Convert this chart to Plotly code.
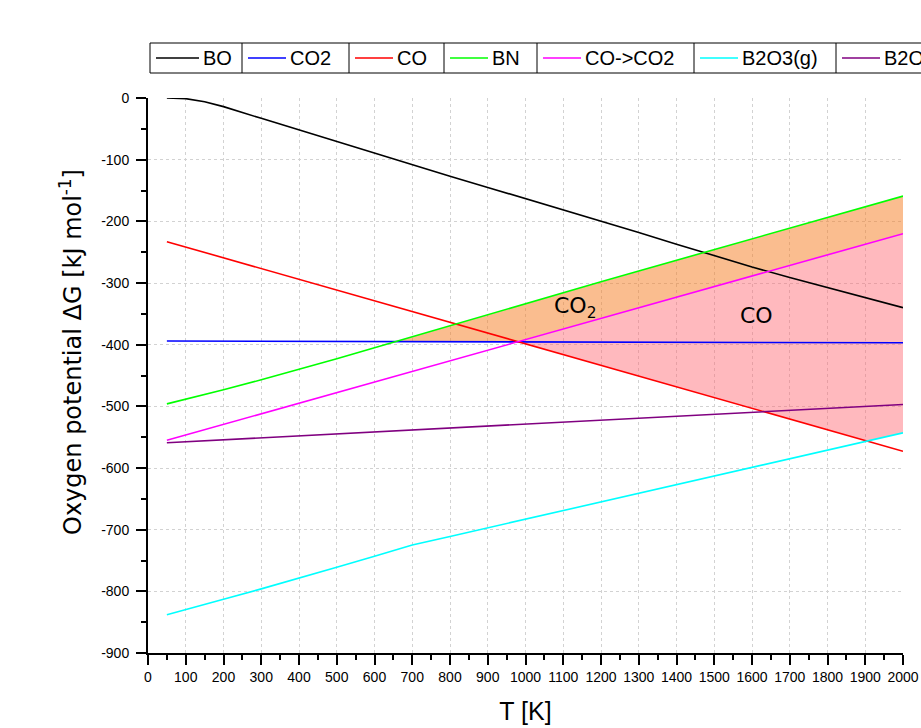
import numpy as np
import plotly.graph_objects as go

# ---------------- data ----------------
T = [50, 100, 150, 200, 300, 400, 500, 600, 700, 800, 900, 1000,
     1100, 1200, 1300, 1400, 1500, 1600, 1700, 1800, 1900, 2000]

BO = [0, -1, -6, -14, -33, -52, -71, -90, -108, -127, -145, -163,
      -181, -200, -218, -237, -256, -274, -291, -307, -323, -340]
CO2 = [-394, -394.1, -394.2, -394.3, -394.5, -394.6, -394.8, -394.9, -395.1, -395.2, -395.4, -395.5,
       -395.7, -395.8, -396.0, -396.1, -396.3, -396.4, -396.6, -396.7, -396.9, -397]
CO = [-233, -241.7, -250.5, -259.2, -276.6, -294.1, -311.5, -329.0, -346.4, -363.8, -381.3, -398.7,
      -416.2, -433.6, -451.1, -468.5, -486.0, -503.4, -520.8, -538.3, -555.7, -573]
BN = [-496, -488.5, -481, -473, -457, -440.5, -423, -405, -387, -369, -351, -333,
      -315.5, -298, -280.5, -263, -246, -228.5, -211, -194, -176.5, -159]
CO_CO2 = [-555, -546.4, -537.8, -529.2, -512.1, -494.9, -477.7, -460.5, -443.3, -426.2, -409.0, -391.8,
          -374.6, -357.4, -340.3, -323.1, -305.9, -288.7, -271.5, -254.4, -237.2, -220]
B2O3_g = [-838, -830, -821.5, -813, -796, -779, -761, -743, -725, -711, -697, -683,
          -669, -655, -641, -627, -613, -599, -585, -571, -557, -543]
B2O3_l = [-559, -557.4, -555.8, -554.2, -551.0, -547.9, -544.7, -541.5, -538.3, -535.1, -531.9, -528.7,
          -525.5, -522.3, -519.1, -515.9, -512.8, -509.6, -506.4, -503.2, -500.0, -497]

series_names = ["BO", "CO2", "CO", "BN", "CO->CO2", "B2O3(g)", "B2O3(l)"]
series_values = [BO, CO2, CO, BN, CO_CO2, B2O3_g, B2O3_l]
series_colors = ["#000000", "#0000FF", "#FF0000", "#00FF00", "#FF00FF", "#00FFFF", "#800080"]

x_ticks = list(range(0, 2001, 100))
y_ticks = list(range(-900, 1, 100))

region_labels = ["CO<sub>2</sub>", "CO"]

# ---------------- figure ----------------
W, H = 921, 728
ML, MT = 148, 98
MR = W - 903
MB = H - 653
PW, PH = W - ML - MR, H - MT - MB


def px2paper_x(px):
    return (px - ML) / PW


def px2paper_y(py):
    return (H - MB - py) / PH


fig = go.Figure()

# shaded regions, derived from the series by interpolation
Tg = np.arange(50, 2000.5, 1.0)
g_bn = np.interp(Tg, T, BN)
g_co2 = np.interp(Tg, T, CO2)
g_co = np.interp(Tg, T, CO)
g_m = np.interp(Tg, T, CO_CO2)
g_cy = np.interp(Tg, T, B2O3_g)

low_o = np.maximum(g_co2, g_m)
mo = g_bn >= low_o
fig.add_trace(go.Scatter(x=Tg[mo], y=low_o[mo], mode="lines", line=dict(width=0),
                         hoverinfo="skip", showlegend=False))
fig.add_trace(go.Scatter(x=Tg[mo], y=g_bn[mo], mode="lines", line=dict(width=0),
                         fill="tonexty", fillcolor="rgba(246,128,40,0.52)",
                         hoverinfo="skip", showlegend=False))

low_p = np.maximum(g_co, g_cy)
mp = g_m >= low_p
fig.add_trace(go.Scatter(x=Tg[mp], y=low_p[mp], mode="lines", line=dict(width=0),
                         hoverinfo="skip", showlegend=False))
fig.add_trace(go.Scatter(x=Tg[mp], y=g_m[mp], mode="lines", line=dict(width=0),
                         fill="tonexty", fillcolor="rgba(255,100,110,0.45)",
                         hoverinfo="skip", showlegend=False))

# curves
for name, vals, col in zip(series_names, series_values, series_colors):
    fig.add_trace(go.Scatter(x=T, y=vals, mode="lines", name=name,
                             line=dict(color=col, width=1.6), showlegend=False))

# region labels
fig.add_annotation(x=1131, y=-339, text=region_labels[0], showarrow=False,
                   font=dict(family="DejaVu Sans", size=22, color="black"))
fig.add_annotation(x=1613, y=-352, text=region_labels[1], showarrow=False,
                   font=dict(family="DejaVu Sans", size=22, color="black"))

# y-axis title
fig.add_annotation(xref="paper", yref="paper", x=px2paper_x(71), y=px2paper_y(352),
                   text="Oxygen potential ΔG [kJ mol<sup>-1</sup>]", textangle=-90,
                   showarrow=False, xanchor="center", yanchor="middle",
                   font=dict(family="DejaVu Sans", size=24, color="black"))

# custom boxed legend (cells across the top)
cell_edges = [150, 242, 349, 444, 537, 694, 836, 990]
box_top, box_bot = 43, 73
shapes = []
shapes.append(dict(type="rect", xref="paper", yref="paper",
                   x0=px2paper_x(cell_edges[0]), x1=px2paper_x(cell_edges[-1]),
                   y0=px2paper_y(box_bot), y1=px2paper_y(box_top),
                   line=dict(color="black", width=1), fillcolor="white", layer="above"))
for e in cell_edges[1:-1]:
    shapes.append(dict(type="line", xref="paper", yref="paper",
                       x0=px2paper_x(e), x1=px2paper_x(e),
                       y0=px2paper_y(box_bot), y1=px2paper_y(box_top),
                       line=dict(color="black", width=1), layer="above"))
ymid = (box_top + box_bot) / 2
for i, (name, col) in enumerate(zip(series_names, series_colors)):
    L = cell_edges[i]
    x0 = L + 6
    x1 = L + (49 if i == 0 else 44)
    shapes.append(dict(type="line", xref="paper", yref="paper",
                       x0=px2paper_x(x0), x1=px2paper_x(x1),
                       y0=px2paper_y(ymid), y1=px2paper_y(ymid),
                       line=dict(color=col, width=1.6), layer="above"))
    fig.add_annotation(xref="paper", yref="paper", x=px2paper_x(x1 + 2), y=px2paper_y(ymid),
                       xanchor="left", yanchor="middle", text=name, showarrow=False,
                       font=dict(family="Liberation Sans", size=20, color="black"))

fig.update_layout(
    width=W, height=H,
    margin=dict(l=ML, r=MR, t=MT, b=MB, autoexpand=False),
    paper_bgcolor="white", plot_bgcolor="white",
    shapes=shapes,
    showlegend=False,
)

fig.update_xaxes(
    range=[0, 2000], tickvals=x_ticks, ticktext=[str(v) for v in x_ticks],
    showline=True, linecolor="black", linewidth=2, automargin=False,
    ticks="outside", ticklen=10, tickwidth=2, tickcolor="black",
    minor=dict(dtick=50, tick0=0, ticklen=5, tickwidth=2, tickcolor="black", ticks="outside", showgrid=False),
    showgrid=True, gridcolor="#d2d2d2", griddash="dot", gridwidth=1,
    zeroline=False,
    tickfont=dict(family="Liberation Sans", size=14, color="black"),
    title=dict(text="T [K]", font=dict(family="Liberation Sans", size=25, color="black"), standoff=19),
)
fig.update_yaxes(
    range=[-900, 0], tickvals=y_ticks, ticktext=[str(v) for v in y_ticks],
    showline=True, linecolor="black", linewidth=2, automargin=False,
    ticks="outside", ticklen=10, tickwidth=2, tickcolor="black",
    minor=dict(dtick=50, tick0=0, ticklen=5, tickwidth=2, tickcolor="black", ticks="outside", showgrid=False),
    showgrid=True, gridcolor="#d2d2d2", griddash="dot", gridwidth=1,
    zeroline=False, ticklabelstandoff=4,
    tickfont=dict(family="Liberation Sans", size=14, color="black"),
)

fig.write_html(
    "out.html",
    config={"displayModeBar": False},
    post_script="document.body.style.margin='0';document.documentElement.style.overflow='hidden';",
)
